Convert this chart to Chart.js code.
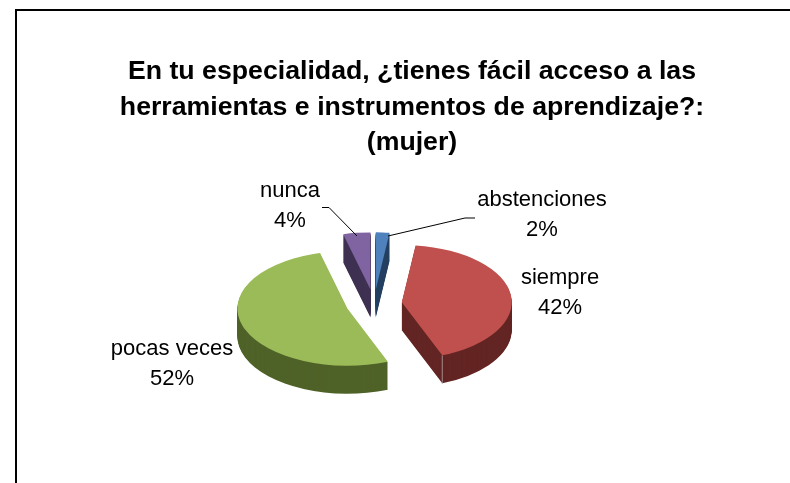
<!DOCTYPE html>
<html>
<head>
<meta charset="utf-8">
<script src="https://cdn.jsdelivr.net/npm/chart.js@4"></script>
<style>
html, body { margin: 0; padding: 0; background: #fff; overflow: hidden; width: 790px; height: 483px; }
#frame { position: absolute; left: 15px; top: 9px; width: 900px; height: 600px; border: 2px solid #000; box-sizing: border-box; }
#pie { position: absolute; left: 16px; top: 10px; }
</style>
</head>
<body>
<div id="frame"></div>
<canvas id="pie" width="792" height="473"></canvas>
<script>
const titleLines = [
    'En tu especialidad, ¿tienes fácil acceso a las',
    'herramientas e instrumentos de aprendizaje?:',
    '(mujer)'
];
const categories = ['abstenciones', 'siempre', 'pocas veces', 'nunca'];
const values = [2, 42, 52, 4];
const topColors = ['#4f81bd', '#c0504d', '#9bbb59', '#8064a2'];
const sideColors = ['#254061', '#632523', '#4f6228', '#3f3151'];

// look of the fake 3d pie
const squash = 0.52;
const depth = 28;
const explode = 28;
const shiftX = -38;

// label text centres, relative to the canvas
const labelSpots = [[526, 190], [544, 268], [156, 339], [274, 181]];
const leaders = [
    [[459, 208], [449, 208], [372, 226]],
    null,
    null,
    [[306, 197.5], [313, 197.5], [341, 226]]
];

const fake3d = {
    id: 'fake3d',
    beforeDatasetDraw(chart, args) {
        const ctx = chart.ctx;
        const arcs = chart.getDatasetMeta(args.index).data.slice();
        // back slices first
        arcs.sort((a, b) => Math.sin((a.startAngle + a.endAngle) / 2) - Math.sin((b.startAngle + b.endAngle) / 2));
        for (const arc of arcs) {
            const mid = (arc.startAngle + arc.endAngle) / 2;
            const i = chart.getDatasetMeta(args.index).data.indexOf(arc);
            const ox = arc.x + shiftX + Math.cos(mid) * explode;
            const oy = arc.y + Math.sin(mid) * explode * squash;
            // side wall: the slice stacked downwards
            ctx.fillStyle = sideColors[i];
            for (let d = depth; d > 0; d--) {
                ctx.save();
                ctx.translate(ox, oy + d);
                ctx.scale(1, squash);
                ctx.beginPath();
                ctx.moveTo(0, 0);
                ctx.arc(0, 0, arc.outerRadius, arc.startAngle, arc.endAngle);
                ctx.closePath();
                ctx.fill();
                ctx.restore();
            }
            // top face, drawn by the arc element itself
            ctx.save();
            ctx.translate(ox, oy);
            ctx.scale(1, squash);
            ctx.translate(-arc.x, -arc.y);
            arc.draw(ctx);
            ctx.restore();
            // pale corner where the red wall turns
            if (categories[i] === 'siempre') {
                const ex = ox + Math.cos(arc.endAngle) * arc.outerRadius;
                const ey = oy + Math.sin(arc.endAngle) * arc.outerRadius * squash;
                ctx.strokeStyle = '#a08a8a';
                ctx.lineWidth = 1;
                ctx.beginPath();
                ctx.moveTo(ex, ey);
                ctx.lineTo(ex, ey + depth);
                ctx.stroke();
            }
        }
        return false;
    },
    afterDraw(chart) {
        const ctx = chart.ctx;
        ctx.save();
        ctx.fillStyle = '#000';
        ctx.font = '22px "Liberation Sans"';
        ctx.textAlign = 'center';
        ctx.textBaseline = 'middle';
        const total = values.reduce((a, b) => a + b, 0);
        categories.forEach((name, i) => {
            const [x, y] = labelSpots[i];
            ctx.fillText(name, x, y);
            ctx.fillText(Math.round(values[i] / total * 100) + '%', x, y + 30);
            if (leaders[i]) {
                ctx.strokeStyle = '#000';
                ctx.lineWidth = 1;
                ctx.beginPath();
                leaders[i].forEach(([px, py], n) => n ? ctx.lineTo(px, py) : ctx.moveTo(px, py));
                ctx.stroke();
            }
        });
        ctx.restore();
    }
};

new Chart(document.getElementById('pie').getContext('2d'), {
    type: 'pie',
    data: {
        labels: categories,
        datasets: [{
            data: values,
            backgroundColor: topColors,
            borderWidth: 0
        }]
    },
    options: {
        responsive: false,
        animation: false,
        layout: { padding: { bottom: 69 } },
        plugins: {
            legend: { display: false },
            tooltip: { enabled: false },
            title: {
                display: true,
                text: titleLines,
                color: '#000',
                font: { family: '"Liberation Sans"', size: 26.7, weight: 'bold', lineHeight: 1.33 },
                padding: { top: 44, bottom: 33.5 }
            }
        }
    },
    plugins: [fake3d]
});
</script>
</body>
</html>
